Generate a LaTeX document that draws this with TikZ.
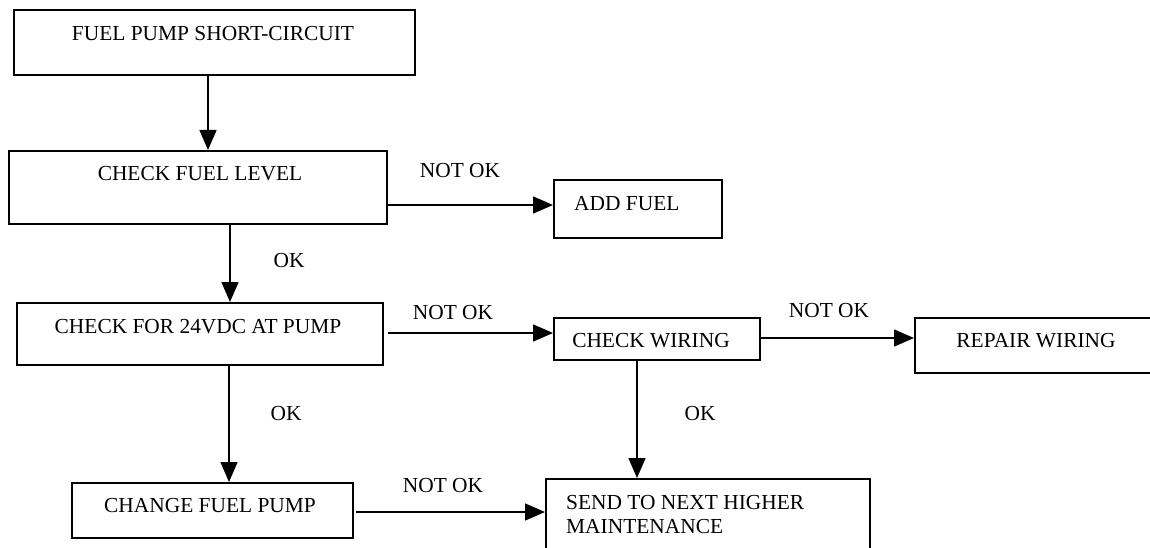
\documentclass[tikz,border=0pt]{standalone}
\usepackage{fontspec}
\setmainfont{Liberation Serif}
\usetikzlibrary{arrows.meta}
\begin{document}
\begin{tikzpicture}[x=1pt,y=-1pt,
  box/.style={draw,line width=1.8pt,inner sep=0pt,anchor=north west},
  txt/.style={inner sep=0pt,anchor=base,font=\fontsize{21.4}{25}\selectfont},
  ltxt/.style={txt,anchor=base west},
  arr/.style={-{Triangle[length=20pt,width=17pt]},line width=1.5pt}]
\useasboundingbox (0,0) rectangle (1150,548);
\clip (0,0) rectangle (1150,548);
% boxes
\node[box,minimum width=401pt,minimum height=65pt] (b1) at (13,9) {};
\node[box,minimum width=378pt,minimum height=73pt] (b2) at (8,150) {};
\node[box,minimum width=168pt,minimum height=58pt] (b3) at (553,179) {};
\node[box,minimum width=366pt,minimum height=62pt] (b4) at (16,302) {};
\node[box,minimum width=206pt,minimum height=42pt] (b5) at (553,317) {};
\node[box,minimum width=245pt,minimum height=55pt] (b6) at (914,317) {};
\node[box,minimum width=281pt,minimum height=55pt] (b7) at (71,482) {};
\node[box,minimum width=324pt,minimum height=80pt] (b8) at (545,478) {};
% texts
\node[txt] (t1) at (213,41) {FUEL PUMP SHORT-CIRCUIT};
\node[txt] (t2) at (200,180) {CHECK FUEL LEVEL};
\node[ltxt] (t3) at (574,210) {ADD FUEL};
\node[txt] (t4) at (198,333) {CHECK FOR 24VDC AT PUMP};
\node[txt] (t5) at (651,347) {CHECK WIRING};
\node[txt] (t6) at (1036,347) {REPAIR WIRING};
\node[txt] (t7) at (210,512) {CHANGE FUEL PUMP};
\node[ltxt] (t8) at (566,509) {SEND TO NEXT HIGHER};
\node[ltxt] (t9) at (566,533) {MAINTENANCE};
% labels
\node[txt] (l1) at (460,178) {NOT OK};
\node[txt] (l2) at (289,267) {OK};
\node[txt] (l3) at (453,319) {NOT OK};
\node[txt] (l4) at (829,317) {NOT OK};
\node[txt] (l5) at (286,420) {OK};
\node[txt] (l6) at (700,420) {OK};
\node[txt] (l7) at (443,492) {NOT OK};
% connector guides
\coordinate (x1) at (208,0);
\coordinate (x2) at (230,0);
\coordinate (x3) at (229,0);
\coordinate (x4) at (637,0);
\coordinate (y1) at (0,205);
\coordinate (y2) at (0,333);
\coordinate (y3) at (0,338);
\coordinate (y4) at (0,512);
% connectors
\draw[arr] (b1.south -| x1) -- (b2.north -| x1);
\draw[arr] (b2.east |- y1) -- (b3.west |- y1);
\draw[arr] (b2.south -| x2) -- (b4.north -| x2);
\draw[arr,shorten <=4pt] (b4.east |- y2) -- (b5.west |- y2);
\draw[arr] (b5.east |- y3) -- (b6.west |- y3);
\draw[arr] (b4.south -| x3) -- (b7.north -| x3);
\draw[arr] (b5.south -| x4) -- (b8.north -| x4);
\draw[arr,shorten <=2pt] (b7.east |- y4) -- (b8.west |- y4);
\end{tikzpicture}
\end{document}
